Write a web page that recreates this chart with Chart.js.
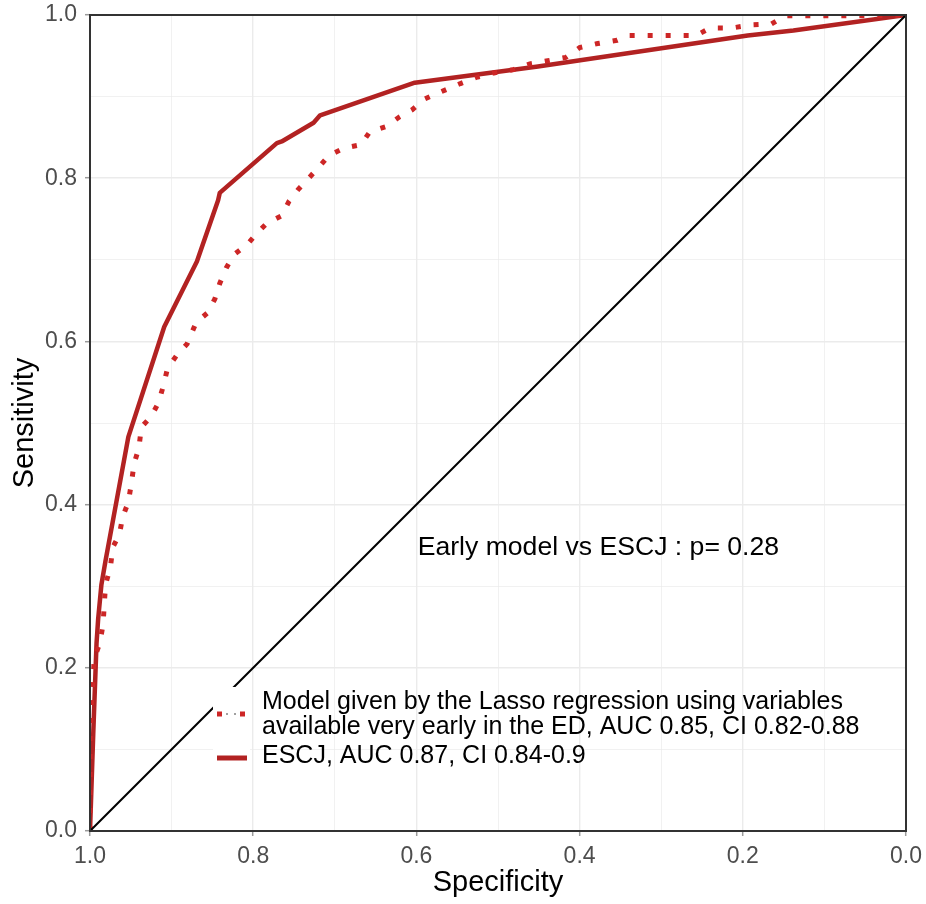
<!DOCTYPE html>
<html>
<head>
<meta charset="utf-8">
<script src="https://cdn.jsdelivr.net/npm/chart.js@4.4.1/dist/chart.umd.min.js"></script>
<style>
  html, body { margin: 0; padding: 0; background: #fff; }
  #wrap { width: 926px; height: 904px; }
</style>
</head>
<body>
<div id="wrap"><canvas id="grafico"></canvas></div>
<script>
// Curva ESCJ (especificidad / sensibilidad)
const escjSpec = [1.0, 0.996, 0.992, 0.990, 0.986, 0.981, 0.953, 0.909, 0.869, 0.843, 0.841, 0.771, 0.765, 0.726, 0.718, 0.602, 0.451, 0.194, 0.138, 0.0];
const escjSens = [0.0, 0.120, 0.230, 0.260, 0.302, 0.331, 0.483, 0.618, 0.698, 0.773, 0.782, 0.843, 0.845, 0.868, 0.877, 0.917, 0.937, 0.975, 0.981, 1.0];

// Curva del modelo temprano (Lasso)
const earlySpec = [1.0, 1.0, 0.998, 0.996, 0.995, 0.988, 0.984, 0.981, 0.975, 0.972, 0.964, 0.960, 0.953, 0.949, 0.946, 0.940, 0.937, 0.925, 0.916, 0.910, 0.905, 0.893, 0.881, 0.870, 0.856, 0.847, 0.841, 0.833, 0.824, 0.808, 0.796, 0.783, 0.765, 0.756, 0.745, 0.732, 0.720, 0.707, 0.688, 0.668, 0.657, 0.638, 0.621, 0.605, 0.590, 0.572, 0.546, 0.525, 0.505, 0.481, 0.461, 0.439, 0.417, 0.400, 0.378, 0.354, 0.339, 0.257, 0.240, 0.214, 0.189, 0.165, 0.148, 0.044, 0.0];
const earlySens = [0.0, 0.112, 0.163, 0.186, 0.211, 0.230, 0.253, 0.302, 0.323, 0.348, 0.363, 0.385, 0.403, 0.428, 0.450, 0.470, 0.495, 0.508, 0.525, 0.546, 0.567, 0.584, 0.597, 0.623, 0.635, 0.652, 0.671, 0.690, 0.706, 0.718, 0.732, 0.745, 0.754, 0.772, 0.786, 0.800, 0.813, 0.828, 0.837, 0.841, 0.857, 0.863, 0.875, 0.884, 0.897, 0.905, 0.916, 0.924, 0.929, 0.933, 0.940, 0.944, 0.948, 0.960, 0.965, 0.969, 0.975, 0.975, 0.984, 0.984, 0.988, 0.989, 0.999, 0.999, 1.0];

// Diagonal de referencia
const diagSpec = [1.0, 0.0];
const diagSens = [0.0, 1.0];

const majorTicks = [0.0, 0.2, 0.4, 0.6, 0.8, 1.0];

const earlyLabel = ['Model given by the Lasso regression using variables',
                    'available very early in the ED, AUC 0.85, CI 0.82-0.88'];
const escjLabel = 'ESCJ, AUC 0.87, CI 0.84-0.9';
const annotationText = 'Early model vs ESCJ : p= 0.28';
const annotationPos = { x: 0.377, y: 0.347 };

const FONT = '"Liberation Sans", Arial, Helvetica, sans-serif';
const SOLID_RED = '#B22222';
const DOT_RED = '#CD2626';

function toPoints(xs, ys) {
    return xs.map((x, i) => ({ x: x, y: ys[i] }));
}

function isMajor(v) {
    return majorTicks.some(t => Math.abs(t - v) < 1e-6);
}

const gridOpts = {
    color: '#EBEBEB',
    lineWidth: ctx => isMajor(ctx.tick.value) ? 1.4 : 0.7,
    tickColor: ctx => isMajor(ctx.tick.value) ? '#9a9a9a' : 'rgba(0,0,0,0)',
    tickLength: 5,
    tickWidth: 1.5
};

const tickOpts = {
    stepSize: 0.1,
    color: '#4D4D4D',
    font: { family: FONT, size: 23 },
    autoSkip: false,
    maxRotation: 0,
    callback: v => isMajor(v) ? Number(v).toFixed(1) : ''
};

// Borde del panel, anotación y leyenda
const extras = {
    id: 'extras',
    afterDatasetsDraw(chart) {
        const { ctx, chartArea: a, scales: { x, y } } = chart;
        ctx.save();

        ctx.strokeStyle = '#333333';
        ctx.lineWidth = 2;
        ctx.strokeRect(a.left, a.top, a.right - a.left, a.bottom - a.top);

        ctx.fillStyle = '#000';
        ctx.font = '26.6px ' + FONT;
        ctx.textAlign = 'center';
        ctx.textBaseline = 'middle';
        ctx.fillText(annotationText, x.getPixelForValue(annotationPos.x), y.getPixelForValue(annotationPos.y));

        // fondo blanco de las claves
        ctx.fillStyle = '#fff';
        ctx.fillRect(213, 687, 37, 90);

        // clave punteada
        ctx.strokeStyle = DOT_RED;
        ctx.lineWidth = 5;
        ctx.lineCap = 'butt';
        ctx.setLineDash([5, 18]);
        ctx.beginPath();
        ctx.moveTo(217, 714);
        ctx.lineTo(246, 714);
        ctx.stroke();
        ctx.setLineDash([]);
        ctx.fillStyle = '#a0a0a0';
        ctx.fillRect(226, 713, 2, 2);
        ctx.fillRect(234, 713, 2, 2);

        // clave sólida
        ctx.strokeStyle = SOLID_RED;
        ctx.beginPath();
        ctx.moveTo(217, 758);
        ctx.lineTo(247, 758);
        ctx.stroke();

        ctx.fillStyle = '#000';
        ctx.font = '25px ' + FONT;
        ctx.textAlign = 'left';
        ctx.fillText(earlyLabel[0], 262, 702);
        ctx.fillText(earlyLabel[1], 262, 727);
        ctx.fillText(escjLabel, 262, 756);

        ctx.restore();
    }
};

new Chart(document.getElementById('grafico'), {
    type: 'scatter',
    data: {
        datasets: [
            {
                label: 'diagonal',
                data: toPoints(diagSpec, diagSens),
                showLine: true,
                borderColor: '#000',
                borderWidth: 2,
                pointRadius: 0
            },
            {
                label: earlyLabel.join(' '),
                data: toPoints(earlySpec, earlySens),
                showLine: true,
                borderColor: DOT_RED,
                borderWidth: 5,
                borderDash: [5, 13],
                borderCapStyle: 'butt',
                pointRadius: 0
            },
            {
                label: escjLabel,
                data: toPoints(escjSpec, escjSens),
                showLine: true,
                borderColor: SOLID_RED,
                borderWidth: 4.5,
                borderJoinStyle: 'round',
                pointRadius: 0
            }
        ]
    },
    options: {
        responsive: true,
        maintainAspectRatio: false,
        animation: false,
        layout: { padding: { top: 15, right: 20, left: 0, bottom: 0 } },
        plugins: {
            legend: { display: false },
            tooltip: { enabled: false }
        },
        scales: {
            x: {
                type: 'linear',
                reverse: true,
                min: 0,
                max: 1,
                grid: gridOpts,
                border: { display: false },
                ticks: Object.assign({}, tickOpts, { padding: 7 }),
                title: {
                    display: true,
                    text: 'Specificity',
                    color: '#000',
                    font: { family: FONT, size: 29 },
                    padding: { top: 0, bottom: 4 }
                },
                afterFit: scale => {
                    scale.height = 73;
                    scale.paddingLeft = 0;
                    scale.paddingRight = 0;
                }
            },
            y: {
                type: 'linear',
                min: 0,
                max: 1,
                grid: gridOpts,
                border: { display: false },
                ticks: Object.assign({}, tickOpts, { padding: 8 }),
                title: {
                    display: true,
                    text: 'Sensitivity',
                    color: '#000',
                    font: { family: FONT, size: 29 },
                    padding: { top: 8, bottom: 0 }
                },
                afterFit: scale => {
                    scale.width = 90;
                    scale.paddingTop = 0;
                    scale.paddingBottom = 0;
                }
            }
        }
    },
    plugins: [extras]
});
</script>
</body>
</html>
